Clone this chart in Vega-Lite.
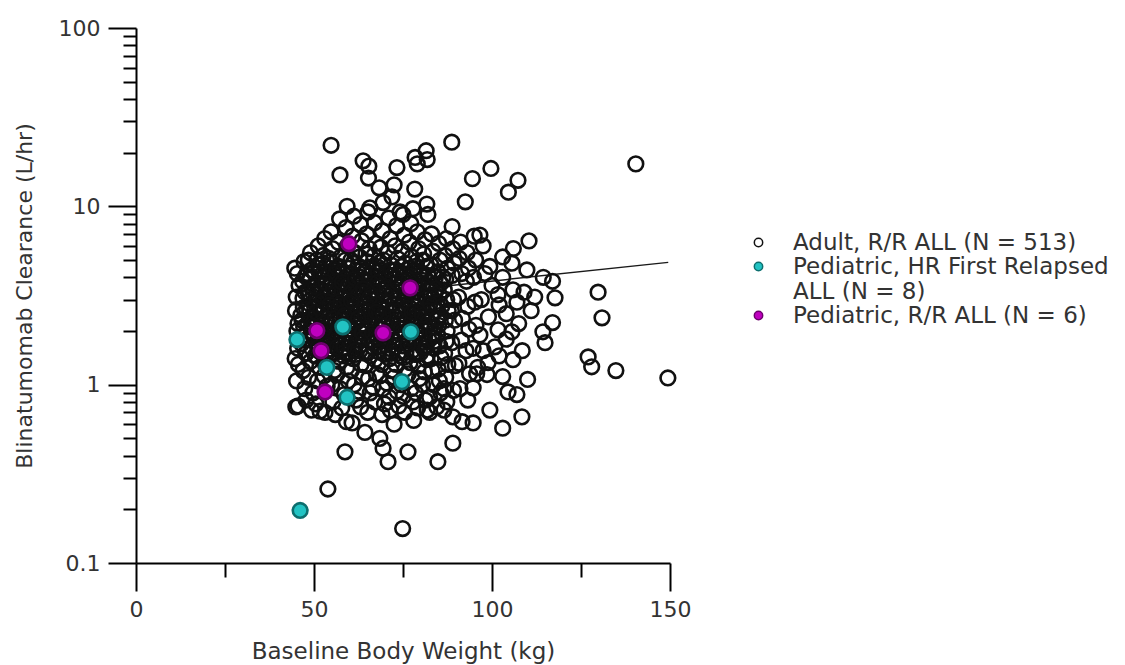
{
"$schema": "https://vega.github.io/schema/vega-lite/v6.json",
"width": 534,
"height": 535,
"autosize": {"type": "none"},
"padding": {"left": 136, "top": 28, "right": 455, "bottom": 102},
"background": "white",
"config": {"view": {"stroke": null}, "font": "DejaVu Sans"},
"datasets": {
"fit": [{"wt": 44, "cl": 2.9}, {"wt": 149.5, "cl": 4.85}],
"pts": [
{"wt":44.6,"cl":4.5,"grp":"adult"},{"wt":45.3,"cl":4.2,"grp":"adult"},{"wt":45.0,"cl":3.1,"grp":"adult"},{"wt":44.8,"cl":2.6,"grp":"adult"},{"wt":45.5,"cl":2.2,"grp":"adult"},{"wt":45.2,"cl":2.0,"grp":"adult"},{"wt":44.7,"cl":1.4,"grp":"adult"},{"wt":45.6,"cl":1.3,"grp":"adult"},{"wt":45.1,"cl":1.05,"grp":"adult"},{"wt":45.5,"cl":0.76,"grp":"adult"},{"wt":44.9,"cl":0.75,"grp":"adult"},{"wt":45.8,"cl":3.6,"grp":"adult"},{"wt":45.4,"cl":1.6,"grp":"adult"},
{"wt":47.2,"cl":4.9,"grp":"adult"},{"wt":46.8,"cl":3.8,"grp":"adult"},{"wt":47.5,"cl":3.3,"grp":"adult"},{"wt":47.0,"cl":2.7,"grp":"adult"},{"wt":46.6,"cl":2.3,"grp":"adult"},{"wt":47.3,"cl":1.9,"grp":"adult"},{"wt":47.7,"cl":1.5,"grp":"adult"},{"wt":46.9,"cl":1.2,"grp":"adult"},{"wt":47.4,"cl":0.95,"grp":"adult"},{"wt":47.8,"cl":0.82,"grp":"adult"},{"wt":47.1,"cl":2.1,"grp":"adult"},{"wt":46.5,"cl":1.7,"grp":"adult"},
{"wt":49.0,"cl":5.5,"grp":"adult"},{"wt":49.3,"cl":4.4,"grp":"adult"},{"wt":48.7,"cl":3.9,"grp":"adult"},{"wt":49.5,"cl":3.5,"grp":"adult"},{"wt":49.1,"cl":3.0,"grp":"adult"},{"wt":48.8,"cl":2.6,"grp":"adult"},{"wt":49.6,"cl":2.4,"grp":"adult"},{"wt":49.2,"cl":2.1,"grp":"adult"},{"wt":48.6,"cl":1.8,"grp":"adult"},{"wt":49.4,"cl":1.6,"grp":"adult"},{"wt":49.0,"cl":1.35,"grp":"adult"},{"wt":48.5,"cl":1.1,"grp":"adult"},{"wt":49.7,"cl":0.9,"grp":"adult"},{"wt":49.3,"cl":0.72,"grp":"adult"},{"wt":48.9,"cl":4.0,"grp":"adult"},
{"wt":51.2,"cl":6.0,"grp":"adult"},{"wt":50.8,"cl":5.0,"grp":"adult"},{"wt":51.5,"cl":4.3,"grp":"adult"},{"wt":51.0,"cl":3.7,"grp":"adult"},{"wt":50.6,"cl":3.2,"grp":"adult"},{"wt":51.3,"cl":2.8,"grp":"adult"},{"wt":51.7,"cl":2.5,"grp":"adult"},{"wt":50.9,"cl":2.2,"grp":"adult"},{"wt":51.4,"cl":1.9,"grp":"adult"},{"wt":51.1,"cl":1.7,"grp":"adult"},{"wt":50.7,"cl":1.45,"grp":"adult"},{"wt":51.6,"cl":1.25,"grp":"adult"},{"wt":51.0,"cl":1.05,"grp":"adult"},{"wt":50.5,"cl":0.78,"grp":"adult"},{"wt":51.8,"cl":3.4,"grp":"adult"},
{"wt":53.0,"cl":6.6,"grp":"adult"},{"wt":52.6,"cl":5.3,"grp":"adult"},{"wt":53.3,"cl":4.6,"grp":"adult"},{"wt":52.9,"cl":4.0,"grp":"adult"},{"wt":53.6,"cl":3.5,"grp":"adult"},{"wt":53.1,"cl":3.1,"grp":"adult"},{"wt":52.7,"cl":2.7,"grp":"adult"},{"wt":53.4,"cl":2.35,"grp":"adult"},{"wt":53.0,"cl":2.0,"grp":"adult"},{"wt":52.5,"cl":1.75,"grp":"adult"},{"wt":53.5,"cl":1.55,"grp":"adult"},{"wt":53.2,"cl":1.3,"grp":"adult"},{"wt":52.8,"cl":1.12,"grp":"adult"},{"wt":53.7,"cl":0.98,"grp":"adult"},{"wt":53.1,"cl":0.7,"grp":"adult"},{"wt":52.6,"cl":4.8,"grp":"adult"},{"wt":53.8,"cl":2.9,"grp":"adult"},
{"wt":54.8,"cl":7.2,"grp":"adult"},{"wt":55.2,"cl":5.8,"grp":"adult"},{"wt":54.6,"cl":4.9,"grp":"adult"},{"wt":55.5,"cl":4.4,"grp":"adult"},{"wt":55.0,"cl":3.8,"grp":"adult"},{"wt":54.7,"cl":3.3,"grp":"adult"},{"wt":55.3,"cl":2.9,"grp":"adult"},{"wt":55.6,"cl":2.5,"grp":"adult"},{"wt":54.9,"cl":2.2,"grp":"adult"},{"wt":55.1,"cl":1.9,"grp":"adult"},{"wt":55.4,"cl":1.65,"grp":"adult"},{"wt":54.5,"cl":1.45,"grp":"adult"},{"wt":55.7,"cl":1.2,"grp":"adult"},{"wt":55.0,"cl":1.0,"grp":"adult"},{"wt":55.3,"cl":0.8,"grp":"adult"},{"wt":54.9,"cl":3.6,"grp":"adult"},{"wt":55.8,"cl":2.0,"grp":"adult"},
{"wt":57.2,"cl":8.5,"grp":"adult"},{"wt":56.8,"cl":6.3,"grp":"adult"},{"wt":57.5,"cl":5.2,"grp":"adult"},{"wt":57.0,"cl":4.6,"grp":"adult"},{"wt":56.6,"cl":4.0,"grp":"adult"},{"wt":57.3,"cl":3.5,"grp":"adult"},{"wt":57.7,"cl":3.1,"grp":"adult"},{"wt":56.9,"cl":2.7,"grp":"adult"},{"wt":57.4,"cl":2.4,"grp":"adult"},{"wt":57.1,"cl":2.1,"grp":"adult"},{"wt":56.7,"cl":1.8,"grp":"adult"},{"wt":57.6,"cl":1.55,"grp":"adult"},{"wt":57.0,"cl":1.35,"grp":"adult"},{"wt":56.5,"cl":1.15,"grp":"adult"},{"wt":57.3,"cl":0.95,"grp":"adult"},{"wt":57.8,"cl":0.74,"grp":"adult"},{"wt":57.2,"cl":4.3,"grp":"adult"},{"wt":56.9,"cl":2.0,"grp":"adult"},
{"wt":59.0,"cl":7.6,"grp":"adult"},{"wt":59.4,"cl":6.0,"grp":"adult"},{"wt":58.8,"cl":5.0,"grp":"adult"},{"wt":59.6,"cl":4.5,"grp":"adult"},{"wt":59.2,"cl":3.9,"grp":"adult"},{"wt":58.6,"cl":3.4,"grp":"adult"},{"wt":59.5,"cl":3.0,"grp":"adult"},{"wt":59.0,"cl":2.6,"grp":"adult"},{"wt":58.7,"cl":2.3,"grp":"adult"},{"wt":59.3,"cl":1.95,"grp":"adult"},{"wt":59.7,"cl":1.7,"grp":"adult"},{"wt":58.9,"cl":1.5,"grp":"adult"},{"wt":59.2,"cl":1.25,"grp":"adult"},{"wt":59.6,"cl":1.05,"grp":"adult"},{"wt":58.5,"cl":0.88,"grp":"adult"},{"wt":59.1,"cl":0.62,"grp":"adult"},{"wt":59.4,"cl":2.8,"grp":"adult"},{"wt":58.8,"cl":1.85,"grp":"adult"},
{"wt":61.2,"cl":8.8,"grp":"adult"},{"wt":60.8,"cl":6.8,"grp":"adult"},{"wt":61.5,"cl":5.5,"grp":"adult"},{"wt":61.0,"cl":4.8,"grp":"adult"},{"wt":60.6,"cl":4.2,"grp":"adult"},{"wt":61.3,"cl":3.7,"grp":"adult"},{"wt":61.7,"cl":3.2,"grp":"adult"},{"wt":60.9,"cl":2.85,"grp":"adult"},{"wt":61.4,"cl":2.5,"grp":"adult"},{"wt":61.1,"cl":2.2,"grp":"adult"},{"wt":60.7,"cl":1.9,"grp":"adult"},{"wt":61.6,"cl":1.65,"grp":"adult"},{"wt":61.0,"cl":1.4,"grp":"adult"},{"wt":60.5,"cl":1.2,"grp":"adult"},{"wt":61.3,"cl":1.0,"grp":"adult"},{"wt":61.8,"cl":0.82,"grp":"adult"},{"wt":61.1,"cl":3.4,"grp":"adult"},{"wt":60.8,"cl":2.0,"grp":"adult"},
{"wt":63.0,"cl":7.9,"grp":"adult"},{"wt":63.4,"cl":6.4,"grp":"adult"},{"wt":62.8,"cl":5.2,"grp":"adult"},{"wt":63.6,"cl":4.5,"grp":"adult"},{"wt":63.2,"cl":4.0,"grp":"adult"},{"wt":62.6,"cl":3.5,"grp":"adult"},{"wt":63.5,"cl":3.1,"grp":"adult"},{"wt":63.0,"cl":2.7,"grp":"adult"},{"wt":62.7,"cl":2.4,"grp":"adult"},{"wt":63.3,"cl":2.1,"grp":"adult"},{"wt":63.7,"cl":1.8,"grp":"adult"},{"wt":62.9,"cl":1.55,"grp":"adult"},{"wt":63.2,"cl":1.3,"grp":"adult"},{"wt":63.6,"cl":1.1,"grp":"adult"},{"wt":62.5,"cl":0.92,"grp":"adult"},{"wt":63.1,"cl":0.75,"grp":"adult"},{"wt":63.4,"cl":2.9,"grp":"adult"},{"wt":62.8,"cl":1.65,"grp":"adult"},
{"wt":65.2,"cl":9.3,"grp":"adult"},{"wt":64.8,"cl":7.0,"grp":"adult"},{"wt":65.5,"cl":5.8,"grp":"adult"},{"wt":65.0,"cl":4.9,"grp":"adult"},{"wt":64.6,"cl":4.3,"grp":"adult"},{"wt":65.3,"cl":3.8,"grp":"adult"},{"wt":65.7,"cl":3.3,"grp":"adult"},{"wt":64.9,"cl":2.9,"grp":"adult"},{"wt":65.4,"cl":2.6,"grp":"adult"},{"wt":65.1,"cl":2.3,"grp":"adult"},{"wt":64.7,"cl":2.0,"grp":"adult"},{"wt":65.6,"cl":1.75,"grp":"adult"},{"wt":65.0,"cl":1.5,"grp":"adult"},{"wt":64.5,"cl":1.28,"grp":"adult"},{"wt":65.3,"cl":1.08,"grp":"adult"},{"wt":65.8,"cl":0.9,"grp":"adult"},{"wt":65.1,"cl":0.7,"grp":"adult"},{"wt":64.9,"cl":3.5,"grp":"adult"},
{"wt":67.0,"cl":8.1,"grp":"adult"},{"wt":67.4,"cl":6.2,"grp":"adult"},{"wt":66.8,"cl":5.3,"grp":"adult"},{"wt":67.6,"cl":4.6,"grp":"adult"},{"wt":67.2,"cl":4.0,"grp":"adult"},{"wt":66.6,"cl":3.6,"grp":"adult"},{"wt":67.5,"cl":3.2,"grp":"adult"},{"wt":67.0,"cl":2.8,"grp":"adult"},{"wt":66.7,"cl":2.45,"grp":"adult"},{"wt":67.3,"cl":2.15,"grp":"adult"},{"wt":67.7,"cl":1.85,"grp":"adult"},{"wt":66.9,"cl":1.6,"grp":"adult"},{"wt":67.2,"cl":1.38,"grp":"adult"},{"wt":67.6,"cl":1.15,"grp":"adult"},{"wt":66.5,"cl":0.97,"grp":"adult"},{"wt":67.1,"cl":0.8,"grp":"adult"},{"wt":67.4,"cl":3.0,"grp":"adult"},{"wt":66.8,"cl":1.7,"grp":"adult"},
{"wt":69.2,"cl":7.3,"grp":"adult"},{"wt":68.8,"cl":5.9,"grp":"adult"},{"wt":69.5,"cl":5.0,"grp":"adult"},{"wt":69.0,"cl":4.4,"grp":"adult"},{"wt":68.6,"cl":3.85,"grp":"adult"},{"wt":69.3,"cl":3.4,"grp":"adult"},{"wt":69.7,"cl":3.0,"grp":"adult"},{"wt":68.9,"cl":2.65,"grp":"adult"},{"wt":69.4,"cl":2.3,"grp":"adult"},{"wt":69.1,"cl":2.05,"grp":"adult"},{"wt":68.7,"cl":1.75,"grp":"adult"},{"wt":69.6,"cl":1.5,"grp":"adult"},{"wt":69.0,"cl":1.3,"grp":"adult"},{"wt":68.5,"cl":1.12,"grp":"adult"},{"wt":69.3,"cl":0.95,"grp":"adult"},{"wt":69.8,"cl":0.78,"grp":"adult"},{"wt":69.1,"cl":0.68,"grp":"adult"},
{"wt":71.0,"cl":8.6,"grp":"adult"},{"wt":71.4,"cl":6.6,"grp":"adult"},{"wt":70.8,"cl":5.5,"grp":"adult"},{"wt":71.6,"cl":4.7,"grp":"adult"},{"wt":71.2,"cl":4.1,"grp":"adult"},{"wt":70.6,"cl":3.6,"grp":"adult"},{"wt":71.5,"cl":3.15,"grp":"adult"},{"wt":71.0,"cl":2.75,"grp":"adult"},{"wt":70.7,"cl":2.4,"grp":"adult"},{"wt":71.3,"cl":2.1,"grp":"adult"},{"wt":71.7,"cl":1.85,"grp":"adult"},{"wt":70.9,"cl":1.6,"grp":"adult"},{"wt":71.2,"cl":1.4,"grp":"adult"},{"wt":71.6,"cl":1.2,"grp":"adult"},{"wt":70.5,"cl":1.02,"grp":"adult"},{"wt":71.1,"cl":0.85,"grp":"adult"},{"wt":71.4,"cl":0.72,"grp":"adult"},
{"wt":73.2,"cl":7.8,"grp":"adult"},{"wt":72.8,"cl":6.0,"grp":"adult"},{"wt":73.5,"cl":5.1,"grp":"adult"},{"wt":73.0,"cl":4.4,"grp":"adult"},{"wt":72.6,"cl":3.9,"grp":"adult"},{"wt":73.3,"cl":3.4,"grp":"adult"},{"wt":73.7,"cl":3.0,"grp":"adult"},{"wt":72.9,"cl":2.6,"grp":"adult"},{"wt":73.4,"cl":2.3,"grp":"adult"},{"wt":73.1,"cl":2.0,"grp":"adult"},{"wt":72.7,"cl":1.75,"grp":"adult"},{"wt":73.6,"cl":1.5,"grp":"adult"},{"wt":73.0,"cl":1.3,"grp":"adult"},{"wt":72.5,"cl":1.1,"grp":"adult"},{"wt":73.3,"cl":0.92,"grp":"adult"},{"wt":73.8,"cl":0.76,"grp":"adult"},
{"wt":75.0,"cl":9.0,"grp":"adult"},{"wt":75.4,"cl":6.9,"grp":"adult"},{"wt":74.8,"cl":5.6,"grp":"adult"},{"wt":75.6,"cl":4.8,"grp":"adult"},{"wt":75.2,"cl":4.2,"grp":"adult"},{"wt":74.6,"cl":3.7,"grp":"adult"},{"wt":75.5,"cl":3.2,"grp":"adult"},{"wt":75.0,"cl":2.8,"grp":"adult"},{"wt":74.7,"cl":2.5,"grp":"adult"},{"wt":75.3,"cl":2.2,"grp":"adult"},{"wt":75.7,"cl":1.9,"grp":"adult"},{"wt":74.9,"cl":1.65,"grp":"adult"},{"wt":75.2,"cl":1.42,"grp":"adult"},{"wt":75.6,"cl":1.22,"grp":"adult"},{"wt":74.5,"cl":1.0,"grp":"adult"},{"wt":75.1,"cl":0.86,"grp":"adult"},{"wt":75.4,"cl":0.7,"grp":"adult"},
{"wt":77.2,"cl":8.0,"grp":"adult"},{"wt":76.8,"cl":6.3,"grp":"adult"},{"wt":77.5,"cl":5.2,"grp":"adult"},{"wt":77.0,"cl":4.5,"grp":"adult"},{"wt":76.6,"cl":4.0,"grp":"adult"},{"wt":77.3,"cl":3.5,"grp":"adult"},{"wt":77.7,"cl":3.05,"grp":"adult"},{"wt":76.9,"cl":2.7,"grp":"adult"},{"wt":77.4,"cl":2.35,"grp":"adult"},{"wt":77.1,"cl":2.05,"grp":"adult"},{"wt":76.7,"cl":1.8,"grp":"adult"},{"wt":77.6,"cl":1.55,"grp":"adult"},{"wt":77.0,"cl":1.33,"grp":"adult"},{"wt":76.5,"cl":1.15,"grp":"adult"},{"wt":77.3,"cl":0.95,"grp":"adult"},{"wt":77.8,"cl":0.8,"grp":"adult"},
{"wt":79.0,"cl":7.2,"grp":"adult"},{"wt":79.4,"cl":5.8,"grp":"adult"},{"wt":78.8,"cl":4.9,"grp":"adult"},{"wt":79.6,"cl":4.3,"grp":"adult"},{"wt":79.2,"cl":3.8,"grp":"adult"},{"wt":78.6,"cl":3.3,"grp":"adult"},{"wt":79.5,"cl":2.9,"grp":"adult"},{"wt":79.0,"cl":2.55,"grp":"adult"},{"wt":78.7,"cl":2.25,"grp":"adult"},{"wt":79.3,"cl":1.95,"grp":"adult"},{"wt":79.7,"cl":1.7,"grp":"adult"},{"wt":78.9,"cl":1.48,"grp":"adult"},{"wt":79.2,"cl":1.27,"grp":"adult"},{"wt":79.6,"cl":1.08,"grp":"adult"},{"wt":78.5,"cl":0.9,"grp":"adult"},{"wt":79.1,"cl":0.74,"grp":"adult"},
{"wt":81.2,"cl":6.5,"grp":"adult"},{"wt":80.8,"cl":5.4,"grp":"adult"},{"wt":81.5,"cl":4.6,"grp":"adult"},{"wt":81.0,"cl":4.0,"grp":"adult"},{"wt":80.6,"cl":3.5,"grp":"adult"},{"wt":81.3,"cl":3.1,"grp":"adult"},{"wt":81.7,"cl":2.7,"grp":"adult"},{"wt":80.9,"cl":2.4,"grp":"adult"},{"wt":81.4,"cl":2.1,"grp":"adult"},{"wt":81.1,"cl":1.85,"grp":"adult"},{"wt":80.7,"cl":1.6,"grp":"adult"},{"wt":81.6,"cl":1.38,"grp":"adult"},{"wt":81.0,"cl":1.18,"grp":"adult"},{"wt":80.5,"cl":1.0,"grp":"adult"},{"wt":81.3,"cl":0.82,"grp":"adult"},{"wt":81.8,"cl":0.72,"grp":"adult"},
{"wt":83.0,"cl":7.0,"grp":"adult"},{"wt":83.4,"cl":5.6,"grp":"adult"},{"wt":82.8,"cl":4.7,"grp":"adult"},{"wt":83.6,"cl":4.1,"grp":"adult"},{"wt":83.2,"cl":3.6,"grp":"adult"},{"wt":82.6,"cl":3.1,"grp":"adult"},{"wt":83.5,"cl":2.75,"grp":"adult"},{"wt":83.0,"cl":2.4,"grp":"adult"},{"wt":82.7,"cl":2.1,"grp":"adult"},{"wt":83.3,"cl":1.85,"grp":"adult"},{"wt":83.7,"cl":1.6,"grp":"adult"},{"wt":82.9,"cl":1.4,"grp":"adult"},{"wt":83.2,"cl":1.2,"grp":"adult"},{"wt":83.6,"cl":1.0,"grp":"adult"},{"wt":82.5,"cl":0.85,"grp":"adult"},
{"wt":85.0,"cl":6.2,"grp":"adult"},{"wt":85.4,"cl":5.0,"grp":"adult"},{"wt":84.8,"cl":4.3,"grp":"adult"},{"wt":85.6,"cl":3.7,"grp":"adult"},{"wt":85.2,"cl":3.2,"grp":"adult"},{"wt":84.6,"cl":2.8,"grp":"adult"},{"wt":85.5,"cl":2.45,"grp":"adult"},{"wt":85.0,"cl":2.15,"grp":"adult"},{"wt":84.7,"cl":1.9,"grp":"adult"},{"wt":85.3,"cl":1.65,"grp":"adult"},{"wt":85.7,"cl":1.42,"grp":"adult"},{"wt":84.9,"cl":1.22,"grp":"adult"},{"wt":85.2,"cl":1.05,"grp":"adult"},{"wt":85.6,"cl":0.9,"grp":"adult"},{"wt":84.5,"cl":0.75,"grp":"adult"},
{"wt":87.2,"cl":6.6,"grp":"adult"},{"wt":86.8,"cl":5.3,"grp":"adult"},{"wt":87.5,"cl":4.5,"grp":"adult"},{"wt":87.0,"cl":3.9,"grp":"adult"},{"wt":86.6,"cl":3.4,"grp":"adult"},{"wt":87.3,"cl":3.0,"grp":"adult"},{"wt":87.7,"cl":2.6,"grp":"adult"},{"wt":86.9,"cl":2.3,"grp":"adult"},{"wt":87.4,"cl":2.0,"grp":"adult"},{"wt":87.1,"cl":1.75,"grp":"adult"},{"wt":86.7,"cl":1.5,"grp":"adult"},{"wt":87.6,"cl":1.3,"grp":"adult"},{"wt":87.0,"cl":1.1,"grp":"adult"},{"wt":86.5,"cl":0.95,"grp":"adult"},{"wt":87.3,"cl":0.8,"grp":"adult"},
{"wt":89.0,"cl":5.8,"grp":"adult"},{"wt":88.8,"cl":4.1,"grp":"adult"},{"wt":89.2,"cl":3.0,"grp":"adult"},{"wt":89.5,"cl":2.3,"grp":"adult"},{"wt":88.7,"cl":1.72,"grp":"adult"},{"wt":89.7,"cl":1.28,"grp":"adult"},{"wt":89.2,"cl":0.93,"grp":"adult"},{"wt":89.4,"cl":4.8,"grp":"adult"},{"wt":88.6,"cl":2.6,"grp":"adult"},
{"wt":91.2,"cl":6.3,"grp":"adult"},{"wt":91.5,"cl":4.2,"grp":"adult"},{"wt":90.6,"cl":3.1,"grp":"adult"},{"wt":91.7,"cl":2.35,"grp":"adult"},{"wt":91.4,"cl":1.78,"grp":"adult"},{"wt":90.7,"cl":1.32,"grp":"adult"},{"wt":91.0,"cl":0.95,"grp":"adult"},{"wt":90.8,"cl":5.1,"grp":"adult"},
{"wt":93.0,"cl":5.5,"grp":"adult"},{"wt":92.8,"cl":3.8,"grp":"adult"},{"wt":93.2,"cl":2.75,"grp":"adult"},{"wt":93.5,"cl":2.05,"grp":"adult"},{"wt":92.7,"cl":1.55,"grp":"adult"},{"wt":93.7,"cl":1.15,"grp":"adult"},{"wt":93.2,"cl":0.82,"grp":"adult"},{"wt":93.4,"cl":4.5,"grp":"adult"},
{"wt":95.0,"cl":6.8,"grp":"adult"},{"wt":94.8,"cl":4.0,"grp":"adult"},{"wt":95.2,"cl":2.9,"grp":"adult"},{"wt":95.5,"cl":2.15,"grp":"adult"},{"wt":94.7,"cl":1.6,"grp":"adult"},{"wt":95.7,"cl":1.15,"grp":"adult"},{"wt":95.4,"cl":5.0,"grp":"adult"},
{"wt":48.0,"cl":4.2,"grp":"adult"},{"wt":48.3,"cl":3.3,"grp":"adult"},{"wt":47.9,"cl":2.65,"grp":"adult"},{"wt":48.2,"cl":2.2,"grp":"adult"},{"wt":48.1,"cl":1.8,"grp":"adult"},{"wt":47.8,"cl":1.5,"grp":"adult"},
{"wt":50.1,"cl":4.3,"grp":"adult"},{"wt":49.8,"cl":3.25,"grp":"adult"},{"wt":50.2,"cl":2.7,"grp":"adult"},{"wt":50.0,"cl":2.15,"grp":"adult"},{"wt":49.9,"cl":1.85,"grp":"adult"},{"wt":50.3,"cl":1.45,"grp":"adult"},
{"wt":52.0,"cl":4.1,"grp":"adult"},{"wt":52.2,"cl":3.35,"grp":"adult"},{"wt":51.9,"cl":2.6,"grp":"adult"},{"wt":52.1,"cl":2.25,"grp":"adult"},{"wt":52.3,"cl":1.78,"grp":"adult"},{"wt":51.8,"cl":1.52,"grp":"adult"},
{"wt":54.1,"cl":4.25,"grp":"adult"},{"wt":53.9,"cl":3.3,"grp":"adult"},{"wt":54.2,"cl":2.62,"grp":"adult"},{"wt":54.0,"cl":2.18,"grp":"adult"},{"wt":53.8,"cl":1.82,"grp":"adult"},{"wt":54.3,"cl":1.48,"grp":"adult"},
{"wt":56.0,"cl":4.15,"grp":"adult"},{"wt":56.2,"cl":3.2,"grp":"adult"},{"wt":55.9,"cl":2.7,"grp":"adult"},{"wt":56.1,"cl":2.25,"grp":"adult"},{"wt":56.3,"cl":1.76,"grp":"adult"},{"wt":55.8,"cl":1.5,"grp":"adult"},
{"wt":58.0,"cl":4.3,"grp":"adult"},{"wt":57.9,"cl":3.3,"grp":"adult"},{"wt":58.2,"cl":2.55,"grp":"adult"},{"wt":58.1,"cl":2.2,"grp":"adult"},{"wt":57.8,"cl":1.8,"grp":"adult"},{"wt":58.3,"cl":1.45,"grp":"adult"},
{"wt":60.1,"cl":4.2,"grp":"adult"},{"wt":59.9,"cl":3.25,"grp":"adult"},{"wt":60.2,"cl":2.65,"grp":"adult"},{"wt":60.0,"cl":2.15,"grp":"adult"},{"wt":60.3,"cl":1.82,"grp":"adult"},{"wt":59.8,"cl":1.52,"grp":"adult"},
{"wt":62.0,"cl":4.1,"grp":"adult"},{"wt":62.2,"cl":3.35,"grp":"adult"},{"wt":61.9,"cl":2.6,"grp":"adult"},{"wt":62.1,"cl":2.25,"grp":"adult"},{"wt":62.3,"cl":1.78,"grp":"adult"},{"wt":61.8,"cl":1.48,"grp":"adult"},
{"wt":64.1,"cl":4.25,"grp":"adult"},{"wt":63.9,"cl":3.3,"grp":"adult"},{"wt":64.2,"cl":2.62,"grp":"adult"},{"wt":64.0,"cl":2.18,"grp":"adult"},{"wt":63.8,"cl":1.82,"grp":"adult"},{"wt":64.3,"cl":1.5,"grp":"adult"},
{"wt":66.0,"cl":4.15,"grp":"adult"},{"wt":66.2,"cl":3.2,"grp":"adult"},{"wt":65.9,"cl":2.7,"grp":"adult"},{"wt":66.1,"cl":2.25,"grp":"adult"},{"wt":66.3,"cl":1.76,"grp":"adult"},{"wt":65.8,"cl":1.45,"grp":"adult"},
{"wt":68.0,"cl":4.3,"grp":"adult"},{"wt":67.9,"cl":3.3,"grp":"adult"},{"wt":68.2,"cl":2.55,"grp":"adult"},{"wt":68.1,"cl":2.2,"grp":"adult"},{"wt":67.8,"cl":1.8,"grp":"adult"},{"wt":68.3,"cl":1.52,"grp":"adult"},
{"wt":70.1,"cl":4.2,"grp":"adult"},{"wt":69.9,"cl":3.25,"grp":"adult"},{"wt":70.2,"cl":2.65,"grp":"adult"},{"wt":70.0,"cl":2.15,"grp":"adult"},{"wt":70.3,"cl":1.82,"grp":"adult"},{"wt":69.8,"cl":1.48,"grp":"adult"},
{"wt":72.0,"cl":4.1,"grp":"adult"},{"wt":72.2,"cl":3.35,"grp":"adult"},{"wt":71.9,"cl":2.6,"grp":"adult"},{"wt":72.1,"cl":2.25,"grp":"adult"},{"wt":72.3,"cl":1.78,"grp":"adult"},{"wt":71.8,"cl":1.5,"grp":"adult"},
{"wt":74.1,"cl":4.25,"grp":"adult"},{"wt":73.9,"cl":3.3,"grp":"adult"},{"wt":74.2,"cl":2.62,"grp":"adult"},{"wt":74.0,"cl":2.18,"grp":"adult"},{"wt":73.8,"cl":1.82,"grp":"adult"},{"wt":74.3,"cl":1.45,"grp":"adult"},
{"wt":76.0,"cl":4.15,"grp":"adult"},{"wt":76.2,"cl":3.2,"grp":"adult"},{"wt":75.9,"cl":2.7,"grp":"adult"},{"wt":76.1,"cl":2.25,"grp":"adult"},{"wt":76.3,"cl":1.76,"grp":"adult"},{"wt":75.8,"cl":1.52,"grp":"adult"},
{"wt":78.0,"cl":4.3,"grp":"adult"},{"wt":77.9,"cl":3.3,"grp":"adult"},{"wt":78.2,"cl":2.55,"grp":"adult"},{"wt":78.1,"cl":2.2,"grp":"adult"},{"wt":77.8,"cl":1.8,"grp":"adult"},{"wt":78.3,"cl":1.48,"grp":"adult"},
{"wt":80.1,"cl":4.2,"grp":"adult"},{"wt":79.9,"cl":3.25,"grp":"adult"},{"wt":80.2,"cl":2.65,"grp":"adult"},{"wt":80.0,"cl":2.15,"grp":"adult"},{"wt":80.3,"cl":1.82,"grp":"adult"},{"wt":79.8,"cl":1.5,"grp":"adult"},
{"wt":82.0,"cl":4.1,"grp":"adult"},{"wt":82.2,"cl":3.35,"grp":"adult"},{"wt":81.9,"cl":2.6,"grp":"adult"},{"wt":82.1,"cl":2.25,"grp":"adult"},{"wt":82.3,"cl":1.78,"grp":"adult"},{"wt":81.8,"cl":1.45,"grp":"adult"},
{"wt":84.1,"cl":4.0,"grp":"adult"},{"wt":83.9,"cl":3.2,"grp":"adult"},{"wt":84.2,"cl":2.6,"grp":"adult"},{"wt":84.0,"cl":2.1,"grp":"adult"},{"wt":83.8,"cl":1.75,"grp":"adult"},
{"wt":46.3,"cl":2.45,"grp":"adult"},{"wt":46.9,"cl":3.05,"grp":"adult"},{"wt":47.6,"cl":4.05,"grp":"adult"},{"wt":48.4,"cl":5.0,"grp":"adult"},{"wt":48.9,"cl":2.35,"grp":"adult"},{"wt":49.5,"cl":1.98,"grp":"adult"},{"wt":50.4,"cl":3.55,"grp":"adult"},{"wt":50.6,"cl":2.55,"grp":"adult"},{"wt":51.1,"cl":1.62,"grp":"adult"},{"wt":51.5,"cl":4.7,"grp":"adult"},
{"wt":52.4,"cl":2.95,"grp":"adult"},{"wt":52.8,"cl":2.05,"grp":"adult"},{"wt":53.3,"cl":3.75,"grp":"adult"},{"wt":53.5,"cl":1.68,"grp":"adult"},{"wt":54.2,"cl":5.1,"grp":"adult"},{"wt":54.4,"cl":2.8,"grp":"adult"},{"wt":54.6,"cl":1.58,"grp":"adult"},{"wt":55.4,"cl":3.45,"grp":"adult"},{"wt":55.9,"cl":2.35,"grp":"adult"},{"wt":56.4,"cl":4.55,"grp":"adult"},
{"wt":56.5,"cl":1.62,"grp":"adult"},{"wt":57.5,"cl":2.85,"grp":"adult"},{"wt":57.9,"cl":3.75,"grp":"adult"},{"wt":58.4,"cl":1.62,"grp":"adult"},{"wt":58.6,"cl":2.45,"grp":"adult"},{"wt":59.6,"cl":3.6,"grp":"adult"},{"wt":59.8,"cl":2.05,"grp":"adult"},{"wt":60.4,"cl":5.0,"grp":"adult"},{"wt":60.5,"cl":2.95,"grp":"adult"},{"wt":61.5,"cl":1.55,"grp":"adult"},
{"wt":61.6,"cl":3.95,"grp":"adult"},{"wt":62.4,"cl":2.35,"grp":"adult"},{"wt":62.5,"cl":4.6,"grp":"adult"},{"wt":63.5,"cl":1.95,"grp":"adult"},{"wt":63.8,"cl":3.45,"grp":"adult"},{"wt":64.4,"cl":2.45,"grp":"adult"},{"wt":64.6,"cl":5.4,"grp":"adult"},{"wt":65.5,"cl":3.05,"grp":"adult"},{"wt":66.4,"cl":1.95,"grp":"adult"},{"wt":66.5,"cl":4.4,"grp":"adult"},
{"wt":67.5,"cl":2.55,"grp":"adult"},{"wt":67.9,"cl":3.75,"grp":"adult"},{"wt":68.4,"cl":1.65,"grp":"adult"},{"wt":68.6,"cl":4.85,"grp":"adult"},{"wt":69.5,"cl":2.45,"grp":"adult"},{"wt":70.4,"cl":3.45,"grp":"adult"},{"wt":70.5,"cl":1.95,"grp":"adult"},{"wt":71.5,"cl":4.4,"grp":"adult"},{"wt":72.4,"cl":2.85,"grp":"adult"},{"wt":72.6,"cl":1.62,"grp":"adult"},
{"wt":73.5,"cl":3.75,"grp":"adult"},{"wt":74.4,"cl":2.05,"grp":"adult"},{"wt":74.6,"cl":4.6,"grp":"adult"},{"wt":75.5,"cl":2.95,"grp":"adult"},{"wt":76.4,"cl":1.68,"grp":"adult"},{"wt":76.6,"cl":3.85,"grp":"adult"},{"wt":77.5,"cl":2.55,"grp":"adult"},{"wt":78.4,"cl":4.6,"grp":"adult"},{"wt":78.6,"cl":1.95,"grp":"adult"},{"wt":79.5,"cl":3.55,"grp":"adult"},
{"wt":80.4,"cl":2.45,"grp":"adult"},{"wt":80.6,"cl":5.0,"grp":"adult"},{"wt":81.5,"cl":1.62,"grp":"adult"},{"wt":82.4,"cl":3.75,"grp":"adult"},{"wt":82.6,"cl":2.85,"grp":"adult"},{"wt":83.5,"cl":1.95,"grp":"adult"},{"wt":84.4,"cl":3.45,"grp":"adult"},{"wt":84.6,"cl":2.35,"grp":"adult"},{"wt":85.9,"cl":2.75,"grp":"adult"},{"wt":86.2,"cl":4.0,"grp":"adult"},
{"wt":54.8,"cl":22.0,"grp":"adult"},{"wt":63.8,"cl":18.0,"grp":"adult"},{"wt":65.4,"cl":16.8,"grp":"adult"},{"wt":57.3,"cl":15.0,"grp":"adult"},{"wt":65.3,"cl":14.4,"grp":"adult"},{"wt":68.3,"cl":12.7,"grp":"adult"},{"wt":72.5,"cl":13.2,"grp":"adult"},{"wt":73.3,"cl":16.5,"grp":"adult"},{"wt":78.4,"cl":18.8,"grp":"adult"},{"wt":79.0,"cl":17.3,"grp":"adult"},{"wt":81.5,"cl":20.5,"grp":"adult"},{"wt":81.8,"cl":18.3,"grp":"adult"},{"wt":88.7,"cl":22.9,"grp":"adult"},{"wt":99.7,"cl":16.3,"grp":"adult"},{"wt":107.3,"cl":14.0,"grp":"adult"},{"wt":104.6,"cl":12.0,"grp":"adult"},{"wt":94.5,"cl":14.3,"grp":"adult"},{"wt":92.5,"cl":10.6,"grp":"adult"},{"wt":140.4,"cl":17.3,"grp":"adult"},{"wt":78.3,"cl":12.5,"grp":"adult"},{"wt":81.7,"cl":10.3,"grp":"adult"},{"wt":59.3,"cl":10.0,"grp":"adult"},{"wt":65.7,"cl":9.8,"grp":"adult"},{"wt":69.4,"cl":10.5,"grp":"adult"},{"wt":71.9,"cl":11.3,"grp":"adult"},{"wt":74.2,"cl":9.3,"grp":"adult"},{"wt":77.8,"cl":9.7,"grp":"adult"},{"wt":82.0,"cl":9.0,"grp":"adult"},{"wt":88.8,"cl":7.7,"grp":"adult"},
{"wt":96.6,"cl":6.9,"grp":"adult"},{"wt":97.5,"cl":6.0,"grp":"adult"},{"wt":103.0,"cl":5.2,"grp":"adult"},{"wt":106.0,"cl":5.8,"grp":"adult"},{"wt":105.6,"cl":4.8,"grp":"adult"},{"wt":99.4,"cl":4.6,"grp":"adult"},{"wt":109.8,"cl":4.4,"grp":"adult"},{"wt":103.0,"cl":4.0,"grp":"adult"},{"wt":114.4,"cl":4.0,"grp":"adult"},{"wt":110.4,"cl":6.4,"grp":"adult"},{"wt":117.0,"cl":3.8,"grp":"adult"},{"wt":129.8,"cl":3.3,"grp":"adult"},{"wt":130.9,"cl":2.37,"grp":"adult"},{"wt":127.0,"cl":1.43,"grp":"adult"},{"wt":128.0,"cl":1.26,"grp":"adult"},{"wt":134.8,"cl":1.2,"grp":"adult"},{"wt":149.4,"cl":1.09,"grp":"adult"},{"wt":117.7,"cl":3.07,"grp":"adult"},{"wt":117.0,"cl":2.23,"grp":"adult"},{"wt":114.3,"cl":1.98,"grp":"adult"},{"wt":114.9,"cl":1.72,"grp":"adult"},{"wt":110.0,"cl":1.07,"grp":"adult"},{"wt":105.9,"cl":1.38,"grp":"adult"},{"wt":107.0,"cl":0.88,"grp":"adult"},{"wt":104.5,"cl":0.91,"grp":"adult"},{"wt":103.0,"cl":1.11,"grp":"adult"},{"wt":98.9,"cl":1.33,"grp":"adult"},{"wt":98.6,"cl":1.14,"grp":"adult"},{"wt":99.4,"cl":0.72,"grp":"adult"},{"wt":108.4,"cl":0.66,"grp":"adult"},{"wt":103.0,"cl":0.57,"grp":"adult"},{"wt":94.7,"cl":0.61,"grp":"adult"},{"wt":94.7,"cl":0.96,"grp":"adult"},{"wt":105.9,"cl":3.4,"grp":"adult"},{"wt":101.7,"cl":3.2,"grp":"adult"},{"wt":109.0,"cl":3.3,"grp":"adult"},{"wt":101.7,"cl":2.03,"grp":"adult"},{"wt":105.6,"cl":1.98,"grp":"adult"},{"wt":96.6,"cl":1.9,"grp":"adult"},{"wt":100.8,"cl":1.63,"grp":"adult"},{"wt":98.0,"cl":4.2,"grp":"adult"},{"wt":100.0,"cl":3.6,"grp":"adult"},{"wt":102.0,"cl":2.8,"grp":"adult"},{"wt":104.0,"cl":2.5,"grp":"adult"},{"wt":107.0,"cl":2.9,"grp":"adult"},{"wt":99.0,"cl":2.4,"grp":"adult"},{"wt":97.0,"cl":3.0,"grp":"adult"},{"wt":104.0,"cl":1.8,"grp":"adult"},{"wt":107.5,"cl":2.2,"grp":"adult"},{"wt":111.0,"cl":2.6,"grp":"adult"},{"wt":112.0,"cl":3.1,"grp":"adult"},{"wt":97.5,"cl":1.55,"grp":"adult"},{"wt":102.0,"cl":1.45,"grp":"adult"},{"wt":96.0,"cl":1.25,"grp":"adult"},{"wt":108.5,"cl":1.55,"grp":"adult"},
{"wt":51.7,"cl":0.71,"grp":"adult"},{"wt":60.7,"cl":0.61,"grp":"adult"},{"wt":64.3,"cl":0.54,"grp":"adult"},{"wt":68.5,"cl":0.5,"grp":"adult"},{"wt":69.4,"cl":0.44,"grp":"adult"},{"wt":58.7,"cl":0.42,"grp":"adult"},{"wt":76.4,"cl":0.42,"grp":"adult"},{"wt":70.8,"cl":0.37,"grp":"adult"},{"wt":84.8,"cl":0.37,"grp":"adult"},{"wt":89.0,"cl":0.47,"grp":"adult"},{"wt":91.6,"cl":0.62,"grp":"adult"},{"wt":89.0,"cl":0.66,"grp":"adult"},{"wt":53.9,"cl":0.26,"grp":"adult"},{"wt":74.9,"cl":0.156,"grp":"adult"},{"wt":78.0,"cl":0.63,"grp":"adult"},{"wt":72.5,"cl":0.6,"grp":"adult"},{"wt":82.5,"cl":0.7,"grp":"adult"},{"wt":86.5,"cl":0.72,"grp":"adult"},{"wt":56.0,"cl":0.68,"grp":"adult"},
{"wt":45.2,"cl":1.79,"grp":"hr"},{"wt":58.1,"cl":2.11,"grp":"hr"},{"wt":53.6,"cl":1.25,"grp":"hr"},{"wt":59.3,"cl":0.85,"grp":"hr"},{"wt":77.2,"cl":1.98,"grp":"hr"},{"wt":74.7,"cl":1.04,"grp":"hr"},{"wt":46.1,"cl":0.197,"grp":"hr"},
{"wt":59.8,"cl":6.17,"grp":"rr"},{"wt":50.8,"cl":2.01,"grp":"rr"},{"wt":52.0,"cl":1.55,"grp":"rr"},{"wt":53.1,"cl":0.91,"grp":"rr"},{"wt":69.4,"cl":1.95,"grp":"rr"},{"wt":77.0,"cl":3.49,"grp":"rr"}
]
},
"encoding": {
"x": {"field": "wt", "type": "quantitative",
"scale": {"domain": [0, 150], "nice": false, "zero": false},
"axis": {"values": [0, 25, 50, 75, 100, 125, 150],
"labelExpr": "datum.value % 50 == 0 ? datum.label : ''",
"tickSize": {"condition": {"test": "datum.value % 50 != 0", "value": 14}, "value": 28},
"title": "Baseline Body Weight (kg)",
"grid": false, "domainColor": "#000", "domainWidth": 2, "tickColor": "#000", "tickWidth": 2,
"labelFont": "DejaVu Sans", "labelFontSize": 22, "labelColor": "#333", "labelPadding": 8, "labelFlush": false, "labelOverlap": false,
"titleFont": "DejaVu Sans", "titleFontSize": 23, "titleFontWeight": "normal", "titleColor": "#333", "titlePadding": 20}},
"y": {"field": "cl", "type": "quantitative",
"scale": {"type": "log", "domain": [0.1, 100], "nice": false},
"axis": {"values": [0.1, 0.2, 0.3, 0.4, 0.5, 0.6, 0.7, 0.8, 0.9, 1, 2, 3, 4, 5, 6, 7, 8, 9, 10, 20, 30, 40, 50, 60, 70, 80, 90, 100],
"labelExpr": "datum.value == 0.1 ? '0.1' : datum.value == 1 ? '1' : datum.value == 10 ? '10' : datum.value == 100 ? '100' : ''",
"tickSize": {"condition": {"test": "datum.value != 0.1 && datum.value != 1 && datum.value != 10 && datum.value != 100", "value": 13}, "value": 28},
"title": "Blinatumomab Clearance (L/hr)",
"grid": false, "domainColor": "#000", "domainWidth": 2, "tickColor": "#000", "tickWidth": 2,
"labelFont": "DejaVu Sans", "labelFontSize": 22, "labelColor": "#333", "labelPadding": 8, "labelFlush": false, "labelOverlap": false,
"titleFont": "DejaVu Sans", "titleFontSize": 22, "titleFontWeight": "normal", "titleColor": "#333", "titlePadding": 22}}
},
"layer": [
{"data": {"name": "fit"}, "mark": {"type": "line", "color": "#1a1a1a", "strokeWidth": 1.5}},
{"data": {"name": "pts"},
"mark": {"type": "point", "shape": "circle", "filled": true, "size": 215, "strokeWidth": 2.6, "opacity": 1},
"encoding": {
"fill": {"field": "grp", "type": "nominal",
"scale": {"domain": ["adult", "hr", "rr"], "range": ["rgba(255,255,255,0)", "#22C3C3", "#C000C0"]},
"legend": {"orient": "none", "legendX": 611, "legendY": 203, "title": null, "labelFont": "DejaVu Sans", "labelFontSize": 23, "labelColor": "#333", "labelLimit": 500, "symbolSize": 70, "symbolStrokeWidth": 1.5, "labelOffset": 23, "rowPadding": -3, "padding": 0,
"labelExpr": "datum.value == 'adult' ? 'Adult, R/R ALL (N = 513)' : datum.value == 'hr' ? ['Pediatric, HR First Relapsed', 'ALL (N = 8)'] : 'Pediatric, R/R ALL (N = 6)'",
"encode": {"labels": {"lineHeight": {"value": 23}}, "symbols": {"y": {"value": {"expr": "datum.value === 'hr' ? 0.5 * datum.size + 11.5 : 0.5 * datum.size"}}}}}},
"stroke": {"field": "grp", "type": "nominal",
"scale": {"domain": ["adult", "hr", "rr"], "range": ["#111111", "#0d6e6e", "#6e006e"]},
"legend": {"orient": "none", "legendX": 611, "legendY": 203, "title": null, "labelFont": "DejaVu Sans", "labelFontSize": 23, "labelColor": "#333", "labelLimit": 500, "symbolSize": 70, "symbolStrokeWidth": 1.5, "labelOffset": 23, "rowPadding": -3, "padding": 0,
"labelExpr": "datum.value == 'adult' ? 'Adult, R/R ALL (N = 513)' : datum.value == 'hr' ? ['Pediatric, HR First Relapsed', 'ALL (N = 8)'] : 'Pediatric, R/R ALL (N = 6)'",
"encode": {"labels": {"lineHeight": {"value": 23}}, "symbols": {"y": {"value": {"expr": "datum.value === 'hr' ? 0.5 * datum.size + 11.5 : 0.5 * datum.size"}}}}}}
}}
]
}
